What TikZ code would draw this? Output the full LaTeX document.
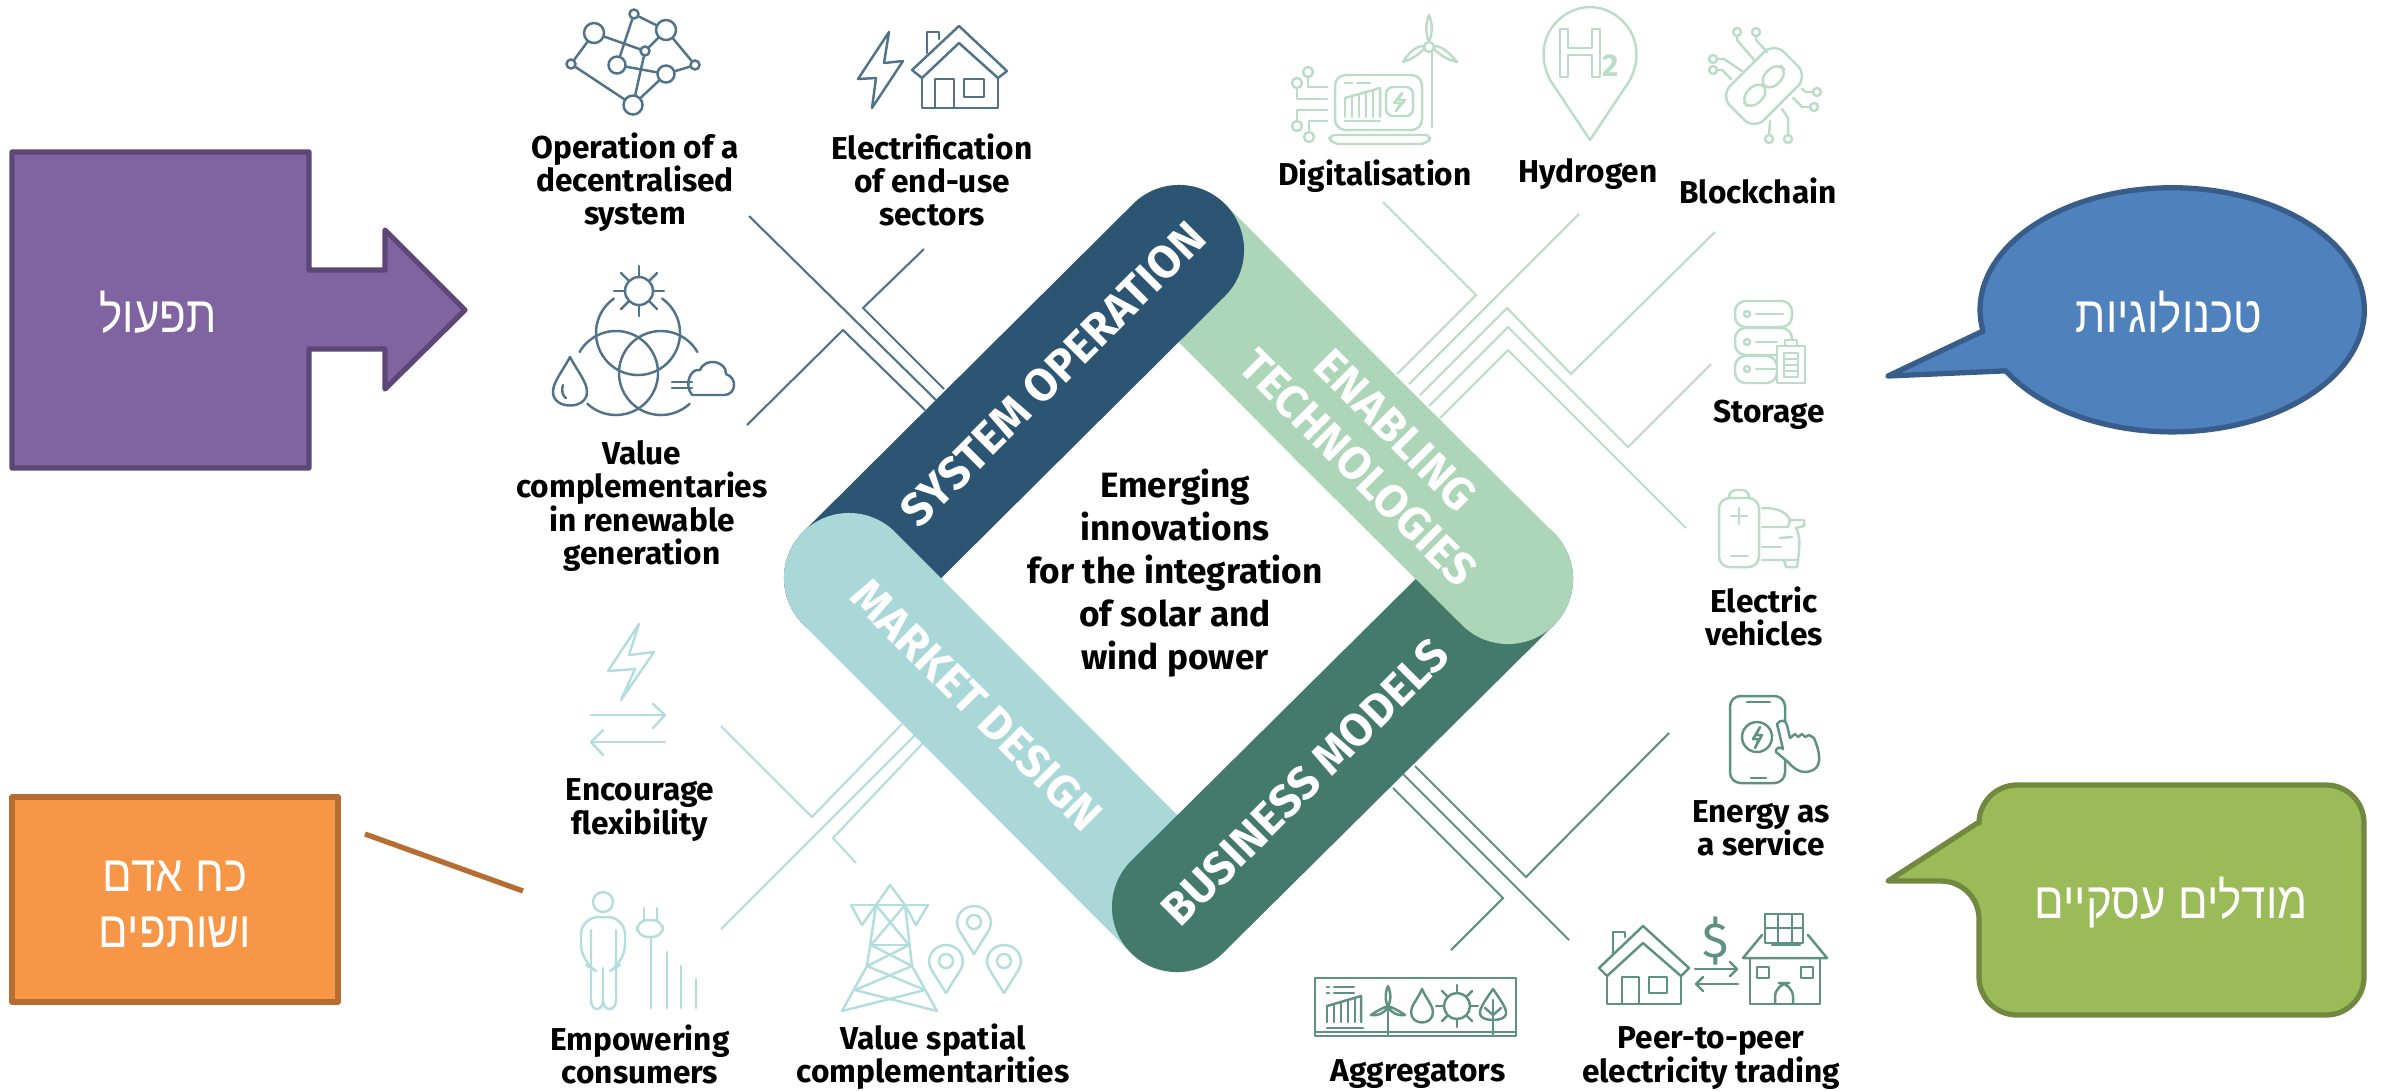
\documentclass[tikz,border=0pt]{standalone}
\usepackage{fontspec}
\setmainfont{Fira Sans}
\newfontfamily\hebfont[Script=Hebrew,FakeStretch=0.86]{Liberation Sans}
\TeXXeTstate=1
\definecolor{sysdark}{HTML}{2B5572}
\definecolor{enablegreen}{HTML}{ADD5B8}
\definecolor{marketteal}{HTML}{AAD8D8}
\definecolor{busgreen}{HTML}{437A6B}
\definecolor{sysline}{HTML}{507389}
\definecolor{enableline}{HTML}{BBDDC8}
\definecolor{marketline}{HTML}{B4DEDE}
\definecolor{busline}{HTML}{5F9182}
\definecolor{opsfill}{HTML}{8064A2}
\definecolor{opsdraw}{HTML}{5C4776}
\definecolor{staffill}{HTML}{F79646}
\definecolor{stafdraw}{HTML}{B66D31}
\definecolor{techfill}{HTML}{4F81BD}
\definecolor{techdraw}{HTML}{385D8A}
\definecolor{bizfill}{HTML}{9BBB59}
\definecolor{bizdraw}{HTML}{71893F}
\tikzset{
  pill/.style={line width=1.3cm, line cap=round},
  pilltext/.style={text=white, font=\fontsize{13}{15}\selectfont\bfseries, align=center},
  itemtext/.style={font=\fontsize{9}{9.4}\selectfont\bfseries, align=center},
  thinline/.style={line width=0.6pt, line join=miter},
  icon/.style={line width=0.7pt, line join=round, line cap=round},
  netnode/.style={circle, draw=sysline, line width=0.7pt, inner sep=0pt},
  callbox/.style={line width=1.5pt, line join=round},
  calltext/.style={text=white, font=\fontsize{14.5}{16}\selectfont\hebfont, align=center},
}
\begin{document}
\begin{tikzpicture}[x=0.01cm, y=-0.01cm]
\useasboundingbox (0,0) rectangle (2382,1090);
% Small helper for the map pins
\def\mappin(#1,#2){
  \draw[icon, marketline, shift={(#1,#2)}] (0,32) -- (-15,8) .. controls (-21,-4) and (-12,-16) .. (0,-16) .. controls (12,-16) and (21,-4) .. (15,8) -- cycle;
  \draw[icon, marketline, shift={(#1,#2)}] (0,0) circle (7);
}

% Connectors behind the diamond
\draw[thinline, sysline] (749,216) -- (936,400);
\draw[thinline, sysline] (747,425) -- (843,330) -- (925,410);
\draw[thinline, sysline] (924,249) -- (863,308) -- (944,389);
\draw[thinline, enableline] (1383,202) -- (1476,295) -- (1397,374);
\draw[thinline, enableline] (1579,214) -- (1409,384);
\draw[thinline, enableline] (1715,232) -- (1571,374) -- (1507,308) -- (1420,395);
\draw[thinline, enableline] (1711,364) -- (1628,447) -- (1508,327) -- (1429,406);
\draw[thinline, enableline] (1686,528) -- (1508,350) -- (1440,418);
\draw[thinline, busline] (1669,733) -- (1526,877) -- (1415,766);
\draw[thinline, busline] (1569,940) -- (1403,774);
\draw[thinline, busline] (1451,950) -- (1503,898) -- (1393,788);
\draw[thinline, marketline] (721,726) -- (812,817) -- (902,724);
\draw[thinline, marketline] (721,929) -- (916,734);
\draw[thinline, marketline] (856,863) -- (833,838) -- (923,743);

% The four bands of the diamond
\draw[pill, enablegreen] (1179,250) -- (1343,415);
\draw[pill, sysdark] (849,578) -- (1179,250);
\draw[pill, marketteal] (849,578) -- (1177,907);
\draw[pill, busgreen] (1177,907) -- (1508,579);
\draw[pill, enablegreen] (1343,415) -- (1508,579);
\node[pilltext, rotate=45] (sysband) at (1053,374) {SYSTEM OPERATION};
\node[pilltext, rotate=-45] (enableband) at (1377,449) {ENABLING\\TECHNOLOGIES};
\node[pilltext, rotate=-45] (marketband) at (977,705) {MARKET DESIGN};
\node[pilltext, rotate=45] (busband) at (1305,782) {BUSINESS MODELS};
\node[font=\fontsize{10}{12.2}\selectfont\bfseries, align=center] (centre) at (1175,573) {Emerging\\innovations\\for the integration\\of solar and\\wind power};

% Item labels
\node[itemtext] (operation) at (635,182) {Operation of a\\decentralised\\system};
\node[itemtext] (electrif) at (932,180) {Electrification\\of end-use\\sectors};
\node[itemtext] (valuecomp) at (642,506) {Value\\complementaries\\in renewable\\generation};
\node[itemtext] (digital) at (1375,176) {Digitalisation};
\node[itemtext] (hydrogen) at (1588,174) {Hydrogen};
\node[itemtext] (blockchain) at (1758,191) {Blockchain};
\node[itemtext] (storage) at (1769,415) {Storage};
\node[itemtext] (electric) at (1764,616) {Electric\\vehicles};
\node[itemtext] (service) at (1761,828) {Energy as\\a service};
\node[itemtext] (aggreg) at (1418,1074) {Aggregators};
\node[itemtext] (peer) at (1711,1058) {Peer-to-peer\\electricity trading};
\node[itemtext] (flex) at (640,810) {Encourage\\flexibility};
\node[itemtext] (consumers) at (640,1054) {Empowering\\consumers};
\node[itemtext] (spatial) at (933,1057) {Value spatial\\complementarities};

% Network icon
\node[netnode, minimum size=0.09cm] (n1) at (634,14) {};
\node[netnode, minimum size=0.2cm] (n2) at (594,33) {};
\node[netnode, minimum size=0.2cm] (n3) at (666,30) {};
\node[netnode, minimum size=0.09cm] (n4) at (645,51) {};
\node[netnode, minimum size=0.09cm] (n5) at (571,64) {};
\node[netnode, minimum size=0.17cm] (n6) at (617,65) {};
\node[netnode, minimum size=0.17cm] (n7) at (666,74) {};
\node[netnode, minimum size=0.09cm] (n8) at (695,65) {};
\node[netnode, minimum size=0.19cm] (n9) at (633,105) {};
\draw[icon, sysline] (n1) -- (n3);
\draw[icon, sysline] (n1) -- (n6);
\draw[icon, sysline] (n2) -- (n5);
\draw[icon, sysline] (n2) -- (n4);
\draw[icon, sysline] (n3) -- (n4);
\draw[icon, sysline] (n3) -- (n8);
\draw[icon, sysline] (n4) -- (n9);
\draw[icon, sysline] (n5) -- (n9);
\draw[icon, sysline] (n6) -- (n7);
\draw[icon, sysline] (n7) -- (n8);
\draw[icon, sysline] (n7) -- (n9);

% Bolt and house
\draw[icon, sysline] (889,32) -- (884,63) -- (903,61) -- (872,108) -- (876,78) -- (858,79) -- cycle;
\draw[icon, sysline] (912,70) -- (959,26) -- (1007,71) -- (998,78) -- (959,43) -- (922,78) -- cycle;
\draw[icon, sysline] (922,78) -- (922,108) -- (998,108) -- (998,78);
\draw[icon, sysline] (935,108) -- (935,79) -- (954,79) -- (954,108);
\draw[icon, sysline] (964,79) rectangle (984,97);
\draw[icon, sysline] (927,53) -- (927,32) -- (939,32) -- (939,39);

% Sun, water and wind circles
\draw[icon, sysline] (639,291) circle (14);
\draw[icon, sysline] (639,277) -- (639,266);
\draw[icon, sysline] (639,305) -- (639,316);
\draw[icon, sysline] (625,291) -- (614,291);
\draw[icon, sysline] (653,291) -- (664,291);
\draw[icon, sysline] (629,281) -- (621,273);
\draw[icon, sysline] (649,281) -- (657,273);
\draw[icon, sysline] (629,301) -- (621,309);
\draw[icon, sysline] (649,301) -- (657,309);
\draw[icon, sysline] (638,333) ++(55:0.42cm) arc[start angle=55, end angle=-235, radius=0.42cm];
\draw[icon, sysline] (616,373) ++(150:0.42cm) arc[start angle=150, end angle=-133, radius=0.42cm];
\draw[icon, sysline] (661,373) ++(30:0.42cm) arc[start angle=30, end angle=313, radius=0.42cm];
\draw[icon, sysline] (570,357) .. controls (562,372) and (553,382) .. (553,392) .. controls (553,410) and (587,410) .. (587,392) .. controls (587,382) and (578,372) .. (570,357) -- cycle;
\draw[icon, sysline] (563,385) .. controls (561,392) and (563,396) .. (566,398);
\draw[icon, sysline] (692,395) -- (724,395) .. controls (736,395) and (738,378) .. (726,374) .. controls (727,362) and (706,356) .. (700,370) .. controls (690,368) and (684,385) .. (692,395);
\draw[icon, sysline] (672,382) -- (692,382);
\draw[icon, sysline] (672,388) -- (692,388);

% Laptop with turbine
\draw[icon, enableline, rounded corners=3pt] (1335,75) rectangle (1422,130);
\draw[icon, enableline, rounded corners=2pt] (1328,135) -- (1432,135) -- (1427,144) -- (1332,144) -- cycle;
\draw[icon, enableline] (1432,52) -- (1432,127);
\draw[icon, enableline] (1429,47) circle (5);
\draw[icon, enableline] (1429,42) .. controls (1424,30) and (1427,20) .. (1429,15) .. controls (1431,20) and (1434,30) .. (1429,42) -- cycle;
\draw[icon, enableline] (1424,49) .. controls (1415,58) and (1408,60) .. (1403,62) .. controls (1408,54) and (1415,46) .. (1424,46) -- cycle;
\draw[icon, enableline] (1434,49) .. controls (1443,58) and (1450,60) .. (1457,62) .. controls (1450,54) and (1443,46) .. (1434,46) -- cycle;
\draw[icon, enableline] (1345,98) -- (1380,88) -- (1380,117);
\draw[icon, enableline] (1345,98) -- (1345,117);
\draw[icon, enableline] (1352,96) -- (1352,117);
\draw[icon, enableline] (1359,94) -- (1359,117);
\draw[icon, enableline] (1366,92) -- (1366,117);
\draw[icon, enableline] (1373,90) -- (1373,117);
\draw[icon, enableline] (1345,121) -- (1380,121);
\draw[icon, enableline] (1345,83) -- (1352,83);
\draw[icon, enableline] (1357,83) -- (1370,83);
\draw[icon, enableline, rounded corners=2pt] (1386,87) rectangle (1413,116);
\draw[icon, enableline] (1402,93) -- (1394,103) -- (1401,103) -- (1396,111) -- (1405,100) -- (1398,100) -- cycle;
\draw[icon, enableline] (1308,72) circle (5);
\draw[icon, enableline] (1297,83) circle (5);
\draw[icon, enableline] (1297,126) circle (5);
\draw[icon, enableline] (1309,137) circle (5);
\draw[icon, enableline] (1308,77) -- (1308,87) -- (1327,87);
\draw[icon, enableline] (1297,88) -- (1297,99) -- (1327,99);
\draw[icon, enableline] (1297,121) -- (1297,110) -- (1327,110);
\draw[icon, enableline] (1309,132) -- (1309,121) -- (1327,121);

% Hydrogen pin
\draw[icon, enableline] (1590,140) -- (1550,80) .. controls (1530,40) and (1560,7) .. (1590,7) .. controls (1620,7) and (1650,40) .. (1630,80) -- cycle;
\draw[icon, enableline] (1560,29) -- (1568,29) -- (1568,48) -- (1592,48) -- (1592,29) -- (1600,29) -- (1600,77) -- (1592,77) -- (1592,55) -- (1568,55) -- (1568,77) -- (1560,77) -- cycle;
\node[text=enableline, font=\fontsize{9}{9}\selectfont\bfseries, inner sep=0pt] (htwo) at (1611,66) {2};

% Chain chip
\draw[icon, enableline, rounded corners=4pt, rotate around={45:(1764,86)}] (1726,62) rectangle (1802,110);
\draw[icon, enableline, rounded corners=3pt, rotate around={45:(1764,86)}] (1738,78) rectangle (1764,94);
\draw[icon, enableline, rounded corners=3pt, rotate around={45:(1764,86)}] (1764,78) rectangle (1790,94);
\draw[icon, enableline] (1756,32) circle (4);
\draw[icon, enableline] (1737,32) circle (4);
\draw[icon, enableline] (1713,59) circle (4);
\draw[icon, enableline] (1713,70) circle (4);
\draw[icon, enableline] (1817,92) circle (4);
\draw[icon, enableline] (1814,107) circle (4);
\draw[icon, enableline] (1788,139) circle (4);
\draw[icon, enableline] (1769,139) circle (4);
\draw[icon, enableline] (1756,36) -- (1756,40) -- (1767,52);
\draw[icon, enableline] (1737,36) -- (1737,40) -- (1755,61);
\draw[icon, enableline] (1717,59) -- (1724,59) -- (1742,71);
\draw[icon, enableline] (1717,70) -- (1722,70) -- (1731,79);
\draw[icon, enableline] (1802,89) -- (1806,92) -- (1813,92);
\draw[icon, enableline] (1793,98) -- (1802,107) -- (1810,107);
\draw[icon, enableline] (1782,109) -- (1788,118) -- (1788,135);
\draw[icon, enableline] (1770,121) -- (1769,135);

% Storage racks with battery
\draw[icon, enableline, rounded corners=3pt] (1735,301) rectangle (1792,327);
\draw[icon, enableline, rounded corners=3pt] (1735,328) rectangle (1792,355);
\draw[icon, enableline, rounded corners=3pt] (1735,356) rectangle (1777,383);
\draw[icon, enableline] (1747,314) circle (3);
\draw[icon, enableline] (1747,342) circle (3);
\draw[icon, enableline] (1747,369) circle (3);
\draw[icon, enableline] (1756,314) -- (1783,314);
\draw[icon, enableline] (1756,342) -- (1777,342);
\draw[icon, enableline] (1756,369) -- (1777,369);
\draw[icon, enableline, fill=white] (1777,346) rectangle (1805,383);
\draw[icon, enableline, fill=white] (1785,340) rectangle (1797,346);
\draw[icon, enableline] (1784,353) rectangle (1798,377);
\draw[icon, enableline] (1784,359) -- (1798,359);
\draw[icon, enableline] (1784,365) -- (1798,365);
\draw[icon, enableline] (1784,371) -- (1798,371);

% Battery with car
\draw[icon, enableline, rounded corners=3pt] (1719,498) rectangle (1759,567);
\draw[icon, enableline, rounded corners=2pt] (1729,498) -- (1729,490) -- (1749,490) -- (1749,498);
\draw[icon, enableline] (1739,508) -- (1739,524);
\draw[icon, enableline] (1731,516) -- (1747,516);
\draw[icon, enableline] (1731,556) -- (1748,556);
\draw[icon, enableline] (1762,508) .. controls (1775,508) and (1785,510) .. (1790,520) -- (1804,520) -- (1804,526) -- (1796,528) .. controls (1800,535) and (1800,545) .. (1798,560) -- (1762,560);
\draw[icon, enableline] (1762,527) -- (1788,527) -- (1790,520);
\draw[icon, enableline] (1780,538) -- (1792,537);
\draw[icon, enableline] (1762,547) -- (1781,547);
\draw[icon, enableline] (1784,560) -- (1786,567) -- (1797,567) -- (1798,560);

% Phone with hand
\begin{scope}[shift={(-7,0)}]
\draw[icon, busline, rounded corners=3pt] (1737,696) rectangle (1792,783);
\draw[icon, busline] (1754,702) -- (1777,702);
\draw[icon, busline] (1758,778) -- (1773,778);
\draw[icon, busline] (1764,737) circle (15);
\draw[icon, busline] (1767,727) -- (1760,739) -- (1766,739) -- (1762,748) -- (1769,735) -- (1763,735) -- cycle;
\draw[icon, busline, fill=white] (1784,724) .. controls (1787,719) and (1793,720) .. (1794,725) -- (1797,738) -- (1802,734) -- (1805,737) -- (1809,734) -- (1812,737) -- (1816,735) -- (1821,738) .. controls (1826,750) and (1830,765) .. (1820,770) .. controls (1810,775) and (1802,770) .. (1795,762) -- (1783,752) .. controls (1782,748) and (1787,746) .. (1790,749) -- cycle;
\end{scope}

% Aggregator panel
\begin{scope}[shift={(-3,0)}]
\draw[icon, busline] (1318,978) rectangle (1519,1036);
\draw[icon, busline] (1318,1032) -- (1519,1032);
\draw[icon, busline] (1330,987) -- (1332,987);
\draw[icon, busline] (1337,987) -- (1357,987);
\draw[icon, busline] (1330,993) -- (1332,993);
\draw[icon, busline] (1337,993) -- (1357,993);
\draw[icon, busline] (1330,1006) -- (1364,996) -- (1364,1022);
\draw[icon, busline] (1330,1006) -- (1330,1022);
\draw[icon, busline] (1337,1004) -- (1337,1022);
\draw[icon, busline] (1344,1002) -- (1344,1022);
\draw[icon, busline] (1351,1000) -- (1351,1022);
\draw[icon, busline] (1358,998) -- (1358,1022);
\draw[icon, busline] (1330,1028) -- (1366,1028);
\draw[icon, busline] (1391,986) .. controls (1387,995) and (1389,1003) .. (1391,1006) .. controls (1393,1003) and (1395,995) .. (1391,986);
\draw[icon, busline] (1391,1006) .. controls (1385,1008) and (1378,1012) .. (1374,1015) .. controls (1380,1016) and (1388,1014) .. (1391,1006);
\draw[icon, busline] (1391,1006) .. controls (1397,1008) and (1404,1012) .. (1408,1015) .. controls (1402,1016) and (1394,1014) .. (1391,1006);
\draw[icon, busline] (1391,1006) -- (1391,1036);
\draw[icon, busline] (1425,989) .. controls (1420,1000) and (1414,1006) .. (1414,1012) .. controls (1414,1026) and (1436,1026) .. (1436,1012) .. controls (1436,1006) and (1430,1000) .. (1425,989) -- cycle;
\draw[icon, busline] (1460,1006) circle (13);
\draw[icon, busline] (1460,993) -- (1460,985);
\draw[icon, busline] (1460,1019) -- (1460,1027);
\draw[icon, busline] (1447,1006) -- (1439,1006);
\draw[icon, busline] (1473,1006) -- (1481,1006);
\draw[icon, busline] (1451,997) -- (1445,991);
\draw[icon, busline] (1469,997) -- (1475,991);
\draw[icon, busline] (1451,1015) -- (1445,1021);
\draw[icon, busline] (1469,1015) -- (1475,1021);
\draw[icon, busline] (1496,989) .. controls (1490,998) and (1482,1008) .. (1483,1014) .. controls (1484,1022) and (1508,1022) .. (1509,1014) .. controls (1510,1008) and (1502,998) .. (1496,989) -- cycle;
\draw[icon, busline] (1496,1000) -- (1496,1036);
\draw[icon, busline] (1488,1008) -- (1496,1015) -- (1504,1008);
\end{scope}

% Two houses trading
\draw[icon, busline] (1599,968) -- (1643,926) -- (1689,968) -- (1681,976) -- (1643,943) -- (1607,976) -- cycle;
\draw[icon, busline] (1607,976) -- (1607,1004) -- (1681,1004) -- (1681,976);
\draw[icon, busline] (1622,1004) -- (1622,977) -- (1639,977) -- (1639,1004);
\draw[icon, busline] (1649,977) rectangle (1667,993);
\draw[icon, busline] (1613,953) -- (1613,932) -- (1625,932) -- (1625,937);
\draw[icon, busline] (1695,969) -- (1737,969);
\draw[icon, busline] (1730,962) -- (1737,969) -- (1730,976);
\draw[icon, busline] (1738,984) -- (1696,984);
\draw[icon, busline] (1703,977) -- (1696,984) -- (1703,991);
\node[text=busline, font=\fontsize{14}{14}\selectfont, inner sep=0pt] (dollar) at (1716,941) {\$};
\draw[icon, busline] (1765,914) rectangle (1803,943);
\draw[icon, busline] (1778,914) -- (1778,943);
\draw[icon, busline] (1792,914) -- (1792,943);
\draw[icon, busline] (1765,928) -- (1803,928);
\draw[icon, busline] (1772,945) -- (1800,945);
\draw[icon, busline] (1762,935) -- (1743,958) -- (1827,958) -- (1808,935);
\draw[icon, busline] (1750,958) -- (1750,1004) -- (1820,1004) -- (1820,958);
\draw[icon, busline] (1757,967) rectangle (1769,978);
\draw[icon, busline] (1801,967) rectangle (1813,978);
\draw[icon, busline, rounded corners=4pt] (1775,1004) -- (1775,983) -- (1793,983) -- (1793,1004);

% Bolt with arrows
\draw[icon, marketline] (639,624) -- (608,671) -- (635,669) -- (621,700) -- (654,652) -- (629,655) -- cycle;
\draw[icon, marketline] (591,715) -- (665,715);
\draw[icon, marketline] (653,704) -- (665,715) -- (653,728);
\draw[icon, marketline] (665,742) -- (591,742);
\draw[icon, marketline] (603,730) -- (591,742) -- (603,755);

% Person, plug and bars
\draw[icon, marketline] (603,902) circle (10);
\draw[icon, marketline, rounded corners=5pt] (586,965) -- (581,962) -- (581,917) -- (625,917) -- (625,962) -- (620,965);
\draw[icon, marketline] (591,930) -- (591,1000) .. controls (591,1012) and (603,1012) .. (603,1000) -- (603,968);
\draw[icon, marketline] (616,930) -- (616,1000) .. controls (616,1012) and (603,1012) .. (603,1000);
\draw[icon, marketline, rounded corners=3pt] (637,920) -- (637,937) -- (663,937) -- (663,920) -- cycle;
\draw[icon, marketline] (644,920) -- (644,908);
\draw[icon, marketline] (657,920) -- (657,908);
\draw[icon, marketline] (651,937) -- (651,1008);
\draw[icon, marketline] (667,952) -- (667,1008);
\draw[icon, marketline] (681,966) -- (681,1008);
\draw[icon, marketline] (696,979) -- (696,1008);

% Pylon and pins
\draw[icon, marketline] (842,1011) -- (867,966) -- (876,905) -- (890,885) -- (905,905) -- (912,966) -- (937,1011);
\draw[icon, marketline] (851,905) -- (928,905);
\draw[icon, marketline] (851,905) -- (862,925) -- (876,905);
\draw[icon, marketline] (928,905) -- (916,925) -- (905,905);
\draw[icon, marketline] (876,905) -- (909,945) -- (867,966) -- (925,990);
\draw[icon, marketline] (905,905) -- (871,945) -- (912,966) -- (855,990);
\draw[icon, marketline] (871,945) -- (909,945);
\draw[icon, marketline] (855,990) -- (937,1011);
\draw[icon, marketline] (925,990) -- (842,1011);
\mappin(974,922)
\mappin(946,961)
\mappin(1004,961)

% Callout on the left, top
\draw[callbox, fill=opsfill, draw=opsdraw] (12,152) -- (309,152) -- (309,270) -- (385,270) -- (385,230) -- (465,310) -- (385,389) -- (385,349) -- (309,349) -- (309,468) -- (12,468) -- cycle;
\node[calltext] (opstext) at (158,312) {\beginR תפעול\endR};

% Callout on the left, bottom
\draw[callbox, fill=staffill, draw=stafdraw] (12,797) rectangle (338,1002);
\coordinate (stafa) at (365,834);
\coordinate (stafb) at (523,891);
\draw[line width=1.5pt, stafdraw] (stafa) -- (stafb);
\node[calltext] (staftext) at (175,904) {\beginR כח אדם\endR\\\beginR ושותפים\endR};

% Callout on the right, top
\draw[callbox, fill=techfill, draw=techdraw] (1888,376) -- (1983,331) arc[start angle=190, end angle=-150, x radius=1.92cm, y radius=1.22cm] -- cycle;
\node[calltext] (techtext) at (2169,312) {\beginR טכנולוגיות\endR};

% Callout on the right, bottom
\draw[callbox, fill=bizfill, draw=bizdraw] (1979,822) [rounded corners=0.38cm] -- (1979,785) -- (2364,785) -- (2364,1015) -- (1979,1015) -- (1979,881) [sharp corners] -- (1888,881) -- cycle;
\node[calltext] (biztext) at (2171,903) {\beginR מודלים עסקיים\endR};
\end{tikzpicture}
\end{document}
